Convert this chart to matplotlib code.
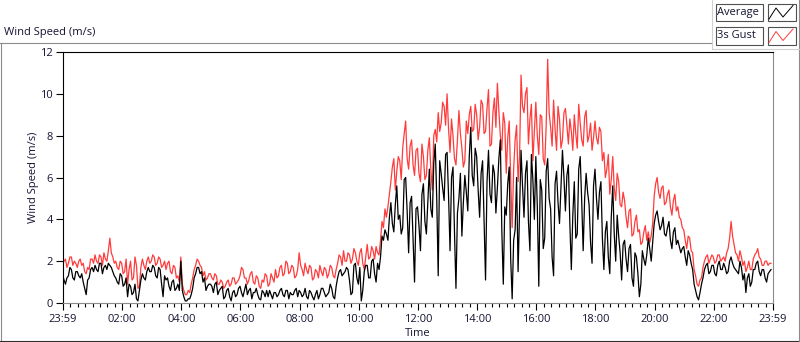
import matplotlib
matplotlib.use("Agg")
import matplotlib.pyplot as plt
from matplotlib.patches import Rectangle
import numpy as np

plt.rcParams['font.family'] = ['Open Sans', 'DejaVu Sans']

# samples every 3 minutes, starting 23:59 (minute -1 of the day)
step_min = 3
start_min = -1

# 3s gust, 20 samples per hour
gust = [
    1.8, 2.0, 2.1, 1.7, 1.9, 2.2, 2.2, 1.8, 2.0, 1.9, 1.7, 2.0, 2.1, 1.8, 1.9, 1.5, 1.4, 1.7, 1.6, 2.1,
    2.1, 1.9, 2.3, 2.0, 1.9, 2.3, 2.2, 1.8, 2.4, 2.1, 2.0, 2.5, 3.1, 2.4, 2.2, 1.9, 2.0, 1.7, 1.6, 2.0,
    1.9, 1.4, 1.5, 2.1, 0.9, 1.6, 2.0, 1.1, 1.2, 2.2, 1.8, 0.7, 0.8, 1.7, 2.1, 1.8, 1.6, 2.0, 2.2, 1.9,
    2.0, 2.3, 2.2, 1.8, 1.9, 2.2, 2.1, 1.7, 1.8, 2.0, 1.6, 1.9, 2.0, 1.5, 1.4, 1.8, 1.7, 1.2, 1.3, 1.0,
    2.2, 0.9, 0.6, 0.4, 0.4, 0.6, 0.5, 0.9, 1.2, 1.6, 1.8, 2.1, 2.0, 1.8, 1.7, 1.3, 1.5, 1.1, 1.2, 1.4,
    1.4, 1.2, 1.1, 1.4, 1.3, 0.9, 0.9, 1.1, 1.0, 0.7, 0.8, 1.0, 1.1, 0.8, 0.9, 1.2, 1.2, 0.9, 1.0, 1.1,
    1.3, 1.7, 1.6, 1.2, 1.2, 0.9, 1.1, 1.4, 1.5, 1.0, 0.9, 1.3, 1.2, 0.8, 0.7, 1.1, 1.0, 1.4, 1.3, 0.8,
    0.9, 1.4, 1.2, 1.0, 1.6, 1.2, 1.3, 1.7, 1.8, 1.3, 1.4, 2.0, 1.9, 1.4, 1.5, 1.8, 1.7, 1.2, 1.3, 1.6,
    2.4, 1.8, 1.6, 1.3, 1.9, 1.6, 1.4, 1.8, 1.7, 1.1, 1.2, 1.6, 1.5, 1.2, 1.8, 1.5, 1.3, 1.7, 1.6, 1.2,
    1.4, 1.8, 1.7, 1.3, 1.2, 1.6, 1.9, 2.3, 2.2, 1.8, 2.5, 2.0, 2.0, 2.4, 2.3, 1.9, 2.1, 2.6, 2.4, 2.0,
    1.8, 2.4, 2.6, 1.9, 1.6, 2.2, 2.8, 2.1, 2.2, 2.7, 2.5, 2.1, 2.7, 2.4, 2.3, 3.0, 3.9, 3.6, 4.5, 4.1,
    4.6, 5.2, 5.8, 6.5, 6.9, 5.4, 6.3, 7.0, 6.8, 5.9, 7.4, 8.1, 8.7, 6.9, 6.4, 7.5, 7.8, 6.6, 6.1, 7.3,
    7.4, 6.2, 5.8, 7.6, 7.0, 5.9, 6.1, 7.3, 7.9, 6.4, 5.4, 8.0, 8.3, 7.7, 9.1, 8.2, 8.6, 9.6, 9.4, 8.5,
    10.0, 8.3, 7.2, 8.8, 8.0, 6.9, 6.6, 7.8, 9.2, 8.1, 7.4, 6.5, 6.8, 8.7, 8.1, 9.0, 9.4, 8.2, 8.3, 9.5,
    9.0, 7.8, 8.4, 9.7, 9.5, 8.1, 8.2, 9.3, 10.2, 7.5, 7.6, 9.1, 9.8, 8.4, 10.5, 9.2, 8.0, 7.3, 9.1, 8.6,
    6.2, 7.9, 8.7, 5.9, 3.6, 6.4, 7.8, 8.5, 5.8, 7.0, 10.9, 9.4, 9.1, 10.0, 10.3, 7.6, 8.8, 9.5, 6.8, 8.2,
    9.6, 8.0, 7.1, 9.0, 8.9, 6.9, 6.6, 8.5, 11.65, 9.1, 8.4, 7.5, 9.7, 8.3, 7.3, 9.4, 8.8, 7.4, 7.8, 9.1,
    9.3, 8.5, 7.6, 8.8, 8.2, 7.3, 9.0, 8.1, 7.4, 9.5, 8.6, 7.8, 7.5, 8.9, 9.2, 7.7, 8.0, 8.6, 7.3, 7.9,
    8.7, 7.9, 7.6, 8.4, 8.2, 6.8, 7.2, 6.0, 6.4, 7.1, 5.2, 5.9, 7.0, 5.5, 4.9, 6.2, 5.8, 4.7, 4.6, 5.3,
    4.9, 4.1, 3.6, 4.4, 4.5, 3.2, 3.3, 3.9, 4.2, 3.4, 3.5, 2.8, 2.9, 3.4, 3.7, 3.0, 3.4, 2.9, 3.2, 3.8,
    5.1, 5.7, 6.0, 5.3, 5.0, 5.5, 5.6, 4.7, 4.8, 5.2, 5.4, 4.6, 4.2, 4.9, 5.2, 4.4, 4.6, 4.1, 4.0, 3.6,
    3.5, 3.0, 2.6, 3.2, 3.1, 2.5, 2.4, 1.6, 1.3, 0.9, 0.8, 1.1, 1.2, 1.7, 2.0, 2.2, 2.3, 1.9, 2.1, 2.3,
    2.2, 1.9, 2.0, 2.3, 2.3, 2.0, 2.1, 2.2, 2.0, 2.4, 2.6, 3.1, 3.9, 3.2, 2.8, 2.4, 2.3, 2.0, 2.5, 2.2,
    1.8, 2.0, 1.5, 1.7, 2.0, 1.6, 1.6, 2.1, 2.3, 2.4, 2.6, 2.2, 2.1, 1.8, 1.8, 2.0, 2.0, 1.8, 1.9, 1.9,
]

# average wind speed
average = [
    1.4, 1.1, 0.9, 1.2, 1.3, 1.7, 1.6, 1.2, 1.1, 1.5, 1.5, 1.3, 1.2, 1.4, 1.0, 0.7, 0.4, 1.1, 1.2, 1.6,
    1.7, 1.5, 1.8, 1.6, 1.5, 1.9, 1.9, 1.4, 1.7, 1.8, 1.6, 1.9, 1.8, 1.7, 1.5, 1.3, 1.2, 1.0, 0.9, 1.4,
    1.3, 0.8, 0.9, 1.2, 0.3, 0.9, 0.8, 0.4, 0.5, 0.9, 0.2, 0.1, 0.6, 1.1, 1.4, 1.2, 1.1, 1.5, 1.7, 1.5,
    1.5, 1.8, 1.7, 1.3, 1.2, 1.7, 1.6, 0.9, 0.3, 1.3, 1.1, 1.2, 0.8, 0.6, 1.0, 1.1, 0.6, 0.7, 0.9, 0.6,
    2.0, 0.6, 0.3, 0.1, 0.1, 0.2, 0.2, 0.4, 0.7, 1.2, 1.4, 1.7, 1.7, 1.4, 1.5, 1.0, 1.2, 0.6, 0.8, 0.9,
    0.9, 0.8, 0.5, 0.9, 1.0, 0.4, 0.6, 0.7, 0.8, 0.2, 0.3, 0.6, 0.7, 0.3, 0.1, 0.5, 0.6, 0.3, 0.4, 0.7,
    0.8, 0.5, 0.3, 0.6, 0.9, 0.4, 0.6, 0.7, 0.2, 0.5, 0.5, 0.7, 0.4, 0.2, 0.15, 0.6, 0.5, 0.3, 0.6, 0.3,
    0.6, 0.4, 0.2, 0.5, 0.5, 0.3, 0.4, 0.6, 0.7, 0.4, 0.3, 0.6, 0.6, 0.2, 0.5, 0.4, 0.4, 0.6, 0.7, 0.3,
    0.6, 0.5, 0.3, 0.4, 0.7, 0.3, 0.2, 0.6, 0.5, 0.3, 0.15, 0.4, 0.6, 0.2, 0.4, 0.7, 0.7, 0.5, 0.3, 0.4,
    0.5, 0.9, 0.7, 0.3, 0.2, 0.8, 1.2, 1.5, 1.6, 1.3, 1.4, 1.5, 1.7, 1.6, 1.1, 0.4, 0.5, 1.8, 1.9, 1.2,
    0.9, 1.7, 0.1, 0.6, 1.5, 1.8, 1.8, 1.2, 1.2, 2.0, 2.1, 1.4, 1.0, 1.9, 1.6, 2.2, 3.2, 3.0, 3.5, 3.3,
    3.0, 4.1, 4.8, 3.8, 3.4, 4.7, 5.6, 4.0, 4.2, 3.3, 3.6, 5.9, 6.0, 4.4, 2.4, 4.8, 5.1, 3.1, 1.0, 4.5,
    4.6, 3.7, 2.5, 5.2, 5.7, 3.9, 3.3, 4.8, 6.4, 4.5, 4.1, 6.7, 7.6, 5.0, 1.3, 6.8, 6.2, 5.5, 4.9, 7.1,
    7.2, 5.1, 2.5, 6.0, 6.5, 3.4, 0.7, 4.3, 5.0, 6.2, 3.2, 4.8, 6.1, 5.3, 4.4, 7.0, 8.4, 6.1, 5.6, 7.4,
    7.0, 5.4, 4.1, 6.2, 6.8, 3.9, 1.1, 5.8, 7.3, 5.2, 4.8, 6.6, 6.2, 4.3, 5.5, 6.9, 7.8, 3.5, 0.9, 4.6,
    4.2, 5.7, 6.5, 2.1, 0.2, 3.0, 3.5, 6.0, 1.5, 4.3, 7.3, 5.6, 4.1, 6.2, 6.8, 3.9, 2.5, 7.1, 5.9, 4.0,
    7.0, 4.6, 0.8, 5.9, 5.4, 2.6, 3.1, 6.3, 6.9, 5.0, 4.5, 2.2, 1.3, 5.7, 6.3, 4.8, 3.8, 5.5, 7.3, 6.0,
    4.4, 6.1, 6.6, 3.8, 1.6, 4.2, 5.8, 3.1, 3.3, 6.4, 7.0, 4.9, 2.5, 5.0, 6.2, 5.3, 4.7, 2.9, 1.9, 5.6,
    6.4, 5.0, 4.0, 5.3, 5.8, 3.1, 1.6, 3.4, 3.9, 2.2, 1.4, 4.1, 5.6, 3.3, 2.0, 4.2, 3.2, 2.4, 1.1, 2.8,
    3.0, 2.1, 1.5, 2.6, 2.8, 1.2, 0.8, 2.4, 2.2, 1.4, 0.3, 0.9, 2.5, 2.1, 1.8, 2.3, 3.1, 2.6, 2.0, 2.9,
    3.8, 4.2, 4.4, 3.9, 3.5, 3.7, 4.1, 3.3, 3.2, 3.6, 3.9, 3.0, 2.6, 3.4, 3.6, 2.8, 3.0, 2.7, 2.4, 2.6,
    2.7, 2.2, 1.8, 2.5, 2.3, 1.9, 1.6, 0.9, 0.6, 0.3, 0.15, 0.5, 0.9, 1.2, 1.6, 1.8, 1.9, 1.4, 1.5, 1.8,
    1.8, 1.4, 1.3, 1.8, 2.0, 1.6, 1.6, 1.9, 1.7, 1.4, 1.5, 2.0, 2.2, 1.9, 1.7, 1.6, 1.5, 1.4, 2.0, 1.7,
    1.1, 1.4, 0.5, 1.2, 1.4, 0.8, 1.0, 1.6, 1.6, 1.9, 2.0, 1.5, 1.3, 1.6, 1.6, 1.2, 1.0, 1.4, 1.5, 1.6,
]

tick_pos = [-1, 120, 240, 360, 480, 600, 720, 840, 960, 1080, 1200, 1320, 1439]
tick_labels = ['23:59', '02:00', '04:00', '06:00', '08:00', '10:00', '12:00',
               '14:00', '16:00', '18:00', '20:00', '22:00', '23:59']
y_ticks = [0, 2, 4, 6, 8, 10, 12]

txt = '#141432'
fs = 8
W, H = 800, 342
fig = plt.figure(figsize=(W / 100, H / 100), dpi=100)

# overlay for the LabVIEW style frame and legend panel (pixel coords)
ov = fig.add_axes([0, 0, 1, 1], zorder=0)
ov.set_xlim(0, W)
ov.set_ylim(H, 0)
ov.axis('off')
ov.plot([0, 712], [42.5, 42.5], color='#8c8c8c', lw=0.8)
ov.plot([1, 1], [42.5, 342], color='#8c8c8c', lw=0.8)
ov.plot([0, 800], [340.5, 340.5], color='#303030', lw=0.8)
ov.plot([798.5, 798.5], [0, 342], color='#8c8c8c', lw=0.8)
ov.plot([711.5, 711.5], [0, 49], color='#d0d0d0', lw=0.8)
ov.plot([711.5, 798.5], [48.5, 48.5], color='#d0d0d0', lw=0.8)
ov.text(4, 32.5, 'Wind Speed (m/s)', fontsize=fs, color=txt, va='center', ha='left')

names = ['Average', '3s Gust']
colors = ['black', '#ff3b3b']
for i, (nm, c) in enumerate(zip(names, colors)):
    y0 = 3.5 + i * 23.5
    ov.add_patch(Rectangle((715.5, y0), 47.5, 17.5, facecolor='white', edgecolor='#505050', lw=0.8))
    ov.add_patch(Rectangle((767.5, y0), 28, 17.5, facecolor='white', edgecolor='#505050', lw=0.8))
    ov.text(717, y0 + 9, nm, fontsize=fs, color=txt, va='center', ha='left')
    ov.plot([769, 776, 783, 793], [y0 + 15.5, y0 + 4.5, y0 + 13.5, y0 + 2], color=c, lw=0.7)

ax = fig.add_axes([62.5 / W, (H - 303) / H, (772.5 - 62.5) / W, (303 - 52) / H], zorder=1)
t = start_min + step_min * np.arange(len(gust))
ax.plot(t, gust, color='#ff3b3b', lw=0.9)
ax.plot(t, average, color='black', lw=0.9)

ax.set_xlim(-1, 1439)
ax.set_ylim(0, 12)
ax.set_xticks(tick_pos)
ax.set_xticklabels(tick_labels)
ax.set_xticks([m for m in range(15, 1439, 15) if m % 120 != 0], minor=True)
ax.set_yticks(y_ticks)
ax.tick_params(axis='both', which='major', length=5, width=0.8, labelsize=fs,
               labelcolor=txt, color='black')
ax.tick_params(axis='x', which='minor', length=3, width=0.8, color='black')
ax.tick_params(axis='x', which='major', pad=3)
ax.tick_params(axis='y', which='major', pad=2)
ax.spines['left'].set_color('black')
ax.spines['top'].set_color('black')
ax.spines['right'].set_color('#8c8c8c')
ax.spines['bottom'].set_color('#8c8c8c')
for s in ax.spines.values():
    s.set_linewidth(0.8)
ax.set_xlabel('Time', fontsize=fs, color=txt, labelpad=2)
ax.set_ylabel('Wind Speed (m/s)', fontsize=fs, color=txt, labelpad=1)

fig.savefig('out.png', dpi=100)
